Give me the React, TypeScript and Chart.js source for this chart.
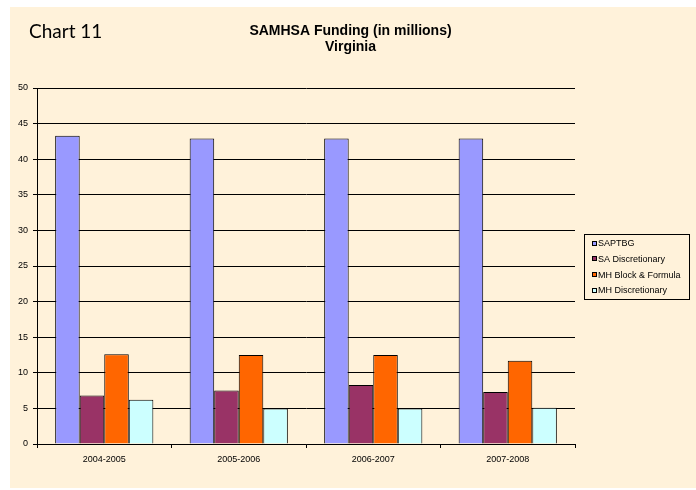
import React, { useEffect, useRef } from "react";
import { Chart, registerables } from "chart.js";

Chart.register(...registerables);

const categories = ["2004-2005", "2005-2006", "2006-2007", "2007-2008"];
const seriesNames = ["SAPTBG", "SA Discretionary", "MH Block & Formula", "MH Discretionary"];
const saptbg = [43.3, 42.9, 42.9, 42.9];
const saDiscretionary = [6.8, 7.5, 8.3, 7.3];
const mhBlockFormula = [12.6, 12.5, 12.5, 11.7];
const mhDiscretionary = [6.2, 5.0, 5.0, 5.1];
const seriesColors = ["#9999FF", "#993366", "#FF6600", "#CCFFFF"];
const yTicks = { min: 0, max: 50, step: 5 };
const titleLines = ["SAMHSA Funding (in millions)", "Virginia"];
const chartLabel = "Chart 11";

const FONT = 'Arial, "Liberation Sans", sans-serif';

const decorPlugin = {
  id: "decor",
  afterDraw(chart: any) {
    const ctx = chart.ctx;
    const area = chart.chartArea;
    ctx.save();
    // Chart label
    ctx.fillStyle = "#000";
    ctx.font = '19px Lato, "Open Sans", sans-serif';
    ctx.textBaseline = "middle";
    ctx.textAlign = "left";
    ctx.fillText(chartLabel, 19, 25);

    // Title
    ctx.font = "bold 14px " + FONT;
    ctx.textAlign = "center";
    titleLines.forEach((line, i) => {
      ctx.fillText(line, 340.5, 24.5 + i * 15.5);
    });
    ctx.textAlign = "left";

    // Legend
    const datasets = chart.data.datasets;
    const boxX = area.right + 9;
    const boxW = 105;
    const rowH = 15.8;
    const boxH = 65;
    const boxY = Math.round((area.top + area.bottom) / 2 - boxH / 2);
    ctx.strokeStyle = "#000";
    ctx.lineWidth = 1;
    ctx.strokeRect(boxX + 0.5, boxY + 0.5, boxW, boxH);
    ctx.font = "9px " + FONT;
    datasets.forEach((ds: any, i: number) => {
      const cy = boxY + 9.5 + i * rowH;
      ctx.fillStyle = ds.backgroundColor;
      ctx.fillRect(boxX + 8, Math.round(cy - 3), 5, 5);
      ctx.strokeStyle = "#000";
      ctx.strokeRect(boxX + 8.5, Math.round(cy - 3) + 0.5, 4, 4);
      ctx.fillStyle = "#000";
      ctx.fillText(ds.label, boxX + 14, cy);
    });
    ctx.restore();
  },
};

export default function App() {
  const ref = useRef<HTMLCanvasElement>(null);
  useEffect(() => {
    if (!ref.current) return;
    const values = [saptbg, saDiscretionary, mhBlockFormula, mhDiscretionary];
    const chart = new Chart(ref.current, {
      type: "bar",
      data: {
        labels: categories,
        datasets: seriesNames.map((name, i) => ({
          label: name,
          data: values[i],
          backgroundColor: seriesColors[i],
          borderColor: "#000",
          borderWidth: 1,
          categoryPercentage: 0.73,
          barPercentage: 1,
        })),
      },
      options: {
        animation: false,
        responsive: false,
        layout: { padding: { left: 0, right: 121, top: 81, bottom: 0 } },
        plugins: {
          legend: { display: false },
          tooltip: { enabled: false },
          title: { display: false },
        },
        scales: {
          x: {
            grid: { drawOnChartArea: false, drawTicks: true, tickLength: 4, color: "#000", offset: true },
            border: { display: true, color: "#000" },
            ticks: { color: "#000", font: { family: FONT, size: 9 }, padding: 6 },
            afterFit: (s: any) => { s.height = 44; },
          },
          y: {
            min: yTicks.min,
            max: yTicks.max,
            grid: { color: "#000", tickLength: 4, drawTicks: true },
            border: { display: true, color: "#000" },
            ticks: { stepSize: yTicks.step, color: "#000", font: { family: FONT, size: 9 }, padding: 5 },
            afterFit: (s: any) => { s.width = 27; },
          },
        },
      },
      plugins: [decorPlugin],
    } as any);
    return () => chart.destroy();
  }, []);
  return (
    <div style={{ position: "absolute", left: 10, top: 7, width: 686, height: 481, background: "#FFF2DA" }}>
      <canvas ref={ref} width={686} height={481} style={{ display: "block" }} />
    </div>
  );
}
